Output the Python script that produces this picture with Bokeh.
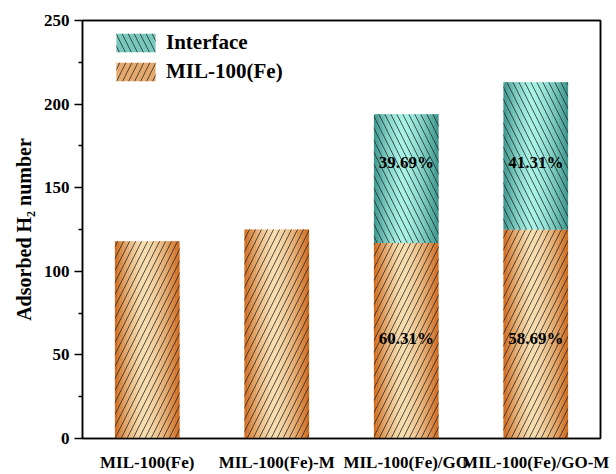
import numpy as np
from bokeh.plotting import figure
from bokeh.models import FixedTicker, Legend, LegendItem, Range1d, LinearAxis
from bokeh.embed import file_html
from bokeh.resources import INLINE
from bokeh.core.properties import value

# ---- data ----
categories = ["MIL-100(Fe)", "MIL-100(Fe)-M", "MIL-100(Fe)/GO", "MIL-100(Fe)/GO-M"]
mil_values = [118, 125, 117, 125]
interface_values = [0, 0, 77, 88]
interface_labels = ["", "", "39.69%", "41.31%"]
mil_labels = ["", "", "60.31%", "58.69%"]
y_ticks = [0, 50, 100, 150, 200, 250]
y_minor_ticks = [25, 75, 125, 175, 225]

# ---- style ----
FONT = "Liberation Serif"
BAR_W = 0.5
N = 28
ORANGE_DARK = (206, 104, 28)
ORANGE_LIGHT = (247, 222, 176)
TEAL_DARK = (58, 148, 138)
TEAL_LIGHT = (168, 242, 230)
HATCH = "#2a2a2a"

x = [i + 1 for i in range(len(categories))]
totals = [m + i for m, i in zip(mil_values, interface_values)]


def mix(c1, c2, s):
    return "#%02x%02x%02x" % tuple(int(round(a + (b - a) * s)) for a, b in zip(c1, c2))


def shade(t, peak=0.45):
    d = (t - peak) / peak if t < peak else (t - peak) / (1 - peak)
    return max(0.0, 1 - abs(d) ** 1.6)


def strips(bottoms, tops, dark, light):
    L, R, B, T, C = [], [], [], [], []
    for xi, b, t in zip(x, bottoms, tops):
        if t <= b:
            continue
        for k in range(N):
            l = xi - BAR_W / 2 + BAR_W * k / N
            r = xi - BAR_W / 2 + BAR_W * (k + 1) / N
            if k < N - 1:
                r += BAR_W / N * 0.5
            L.append(l); R.append(r); B.append(b); T.append(t)
            C.append(mix(dark, light, shade((k + 0.5) / N)))
    return dict(left=L, right=R, bottom=B, top=T, color=C)


p = figure(width=616, height=474, x_range=Range1d(0.5, 4.5), y_range=Range1d(0, 250),
           output_backend="svg", toolbar_location=None,
           min_border_left=82, min_border_right=16, min_border_top=20, min_border_bottom=36)
xa = p.below[0]
ya = p.left[0]

# gradient fills
p.quad(source=strips([0] * len(x), mil_values, ORANGE_DARK, ORANGE_LIGHT),
       left="left", right="right", bottom="bottom", top="top",
       fill_color="color", line_color=None)
p.quad(source=strips(mil_values, totals, TEAL_DARK, TEAL_LIGHT),
       left="left", right="right", bottom="bottom", top="top",
       fill_color="color", line_color=None)

# hatch overlays
p.vbar(x=x, bottom=0, top=mil_values, width=BAR_W, fill_alpha=0, line_color=None,
       hatch_pattern="/", hatch_color=HATCH, hatch_scale=12, hatch_weight=1, hatch_alpha=0.8)
p.vbar(x=x, bottom=mil_values, top=totals, width=BAR_W, fill_alpha=0, line_color=None,
       hatch_pattern="\\", hatch_color=HATCH, hatch_scale=12, hatch_weight=1, hatch_alpha=0.8)

# percentage labels
p.text(x=x, y=[165] * len(x), text=interface_labels, text_font=value(FONT),
       text_font_style="bold", text_font_size="17px", text_align="center",
       text_baseline="middle", text_color="black")
p.text(x=x, y=[60] * len(x), text=mil_labels, text_font=value(FONT),
       text_font_style="bold", text_font_size="17px", text_align="center",
       text_baseline="middle", text_color="black")

# legend proxies (drawn outside the visible range)
r_int = p.vbar(x=[-10], top=[1], width=BAR_W, fill_color=mix(TEAL_DARK, TEAL_LIGHT, 0.55),
               line_color=None, hatch_pattern="\\", hatch_color=HATCH, hatch_scale=12,
               hatch_alpha=0.8)
r_mil = p.vbar(x=[-10], top=[1], width=BAR_W, fill_color=mix(ORANGE_DARK, ORANGE_LIGHT, 0.55),
               line_color=None, hatch_pattern="/", hatch_color=HATCH, hatch_scale=12,
               hatch_alpha=0.8)
legend = Legend(items=[LegendItem(label="Interface", renderers=[r_int]),
                       LegendItem(label="MIL-100(Fe)", renderers=[r_mil])],
                location=(29, 354), glyph_width=49, glyph_height=23, spacing=4,
                padding=0, margin=0, border_line_color=None, background_fill_alpha=0,
                label_text_font=FONT, label_text_font_style="bold",
                label_text_font_size="21px", label_text_color="black",
                label_standoff=6, label_height=23)
p.add_layout(legend)

# axes
p.xgrid.visible = False
p.ygrid.visible = False
p.outline_line_color = "black"
p.outline_line_width = 1.5
p.outline_line_alpha = 1

for loc in ("above", "right"):
    ax = LinearAxis(ticker=FixedTicker(ticks=[]), major_tick_line_color=None,
                    minor_tick_line_color=None, axis_line_width=1.5,
                    axis_line_color="black", major_label_standoff=0)
    p.add_layout(ax, loc)

ya.ticker = FixedTicker(ticks=y_ticks, minor_ticks=y_minor_ticks)
ya.axis_label = "Adsorbed H\u2082 number"
ya.axis_label_text_font = FONT
ya.axis_label_text_font_style = "bold"
ya.axis_label_text_font_size = "20px"
ya.axis_label_text_color = "black"
ya.axis_label_standoff = 6
ya.major_tick_out = 8
ya.major_tick_in = 0
ya.minor_tick_out = 4
ya.minor_tick_in = 0

xa.ticker = FixedTicker(ticks=x)
xa.major_label_overrides = {xi: c for xi, c in zip(x, categories)}
xa.major_tick_line_color = None
xa.minor_tick_line_color = None
xa.major_label_standoff = 8

for ax in (xa, ya):
    ax.axis_line_width = 1.5
    ax.axis_line_color = "black"
    ax.major_label_text_font = FONT
    ax.major_label_text_font_style = "bold"
    ax.major_label_text_font_size = "17px"
    ax.major_label_text_color = "black"
    ax.major_tick_line_width = 1.5
    ax.minor_tick_line_width = 1.5

open("out.html", "w").write(file_html(p, INLINE))
